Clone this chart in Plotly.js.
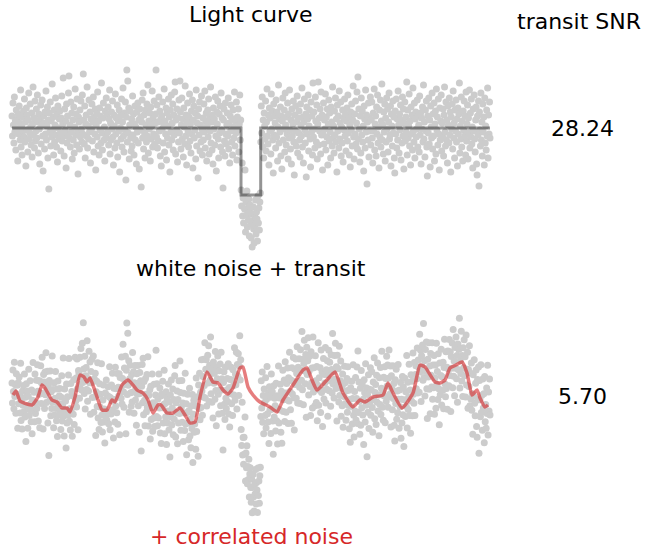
<!DOCTYPE html>
<html><head><meta charset="utf-8">
<script src="https://cdn.plot.ly/plotly-3.0.1.min.js"></script>
<style>html,body{margin:0;padding:0;background:#fff}#chart{width:647px;height:548px}</style>
</head><body><div id="chart"></div>
<script>
// Light curve flux (white noise + transit), relative units, evenly sampled in time
const fluxWhite = [
12,-8,25,3,-15,31,-4,7,-22,18,-1,9,-33,14,-6,22,5,-12,38,-19,2,-27,11,-3,17,-9,29,-14,6,-38,20,-2,13,-24,8,35,-11,-5,24,1,-17,15,-29,4,41,-7,10,-20,27,-13,
-3,19,-10,33,6,-25,14,-1,-36,9,23,-16,3,28,-8,-43,12,5,-21,16,-6,37,-12,2,21,-30,8,-61,15,-4,26,-18,7,-9,44,-2,11,-27,18,-14,3,30,-7,-19,13,-34,22,0,-11,9,
17,-5,-23,10,32,-13,4,50,-8,-28,19,-2,7,-40,24,-15,12,-6,35,52,-10,3,-19,26,-4,15,-31,8,-12,21,-25,1,39,-7,14,-17,29,-3,-46,11,6,-21,18,-9,27,-1,-14,33,-6,54,
8,-16,22,-30,4,13,-8,41,-20,2,-11,28,-4,16,-35,9,-1,24,-13,6,31,-24,11,-6,19,-42,3,15,-9,36,-18,7,-27,20,-2,12,-15,45,-5,-22,10,25,-12,1,-33,17,-7,30,-10,14,
-4,21,-17,9,38,-26,5,-12,16,-1,27,-9,-37,13,2,-20,34,-6,10,-15,23,-29,7,-3,18,-44,12,0,-11,29,-19,6,40,-8,-24,15,-2,26,-52,11,58,-14,47,-5,20,-31,3,17,-10,-23,
9,-18,32,-7,14,-27,4,22,-12,1,-36,16,-4,25,-15,8,-41,19,-2,11,-59,6,28,-10,35,-21,13,-5,-30,18,3,-14,24,-8,43,-25,7,-1,15,-33,21,-11,2,37,-19,10,-6,27,-16,5,
14,58,-9,23,-20,6,-13,31,-3,17,-28,9,-38,12,-1,26,-15,4,39,-24,7,-6,20,-32,15,-10,2,29,-17,11,-44,18,-4,33,-12,5,24,-22,13,-7,36,46,-26,8,-2,19,-34,10,-14,28,
-5,47,16,-21,3,30,-11,9,-29,20,1,-16,42,-8,13,-37,6,25,-3,-19,11,34,-13,4,-25,17,-6,28,-40,8,22,-10,-2,15,-31,38,-18,5,12,-50,19,-7,26,-23,3,-14,32,-1,-27,10,
-12,24,-4,37,-20,7,15,-33,2,18,-9,29,-26,11,-3,41,-15,6,-22,13,-36,20,-1,9,-17,31,-8,-43,16,4,27,-11,-30,14,-5,22,-19,35,-2,10,-24,-60,8,19,-13,-28,25,-6,-16,3,
15,-8,30,-21,5,-35,12,-3,23,-14,9,-27,18,1,-10,36,-18,7,-5,26,-32,11,-2,19,-24,4,33,-12,8,-62,-78,-35,-88,-70,-95,-66,-81,-42,-104,-74,-87,-63,-99,-80,-92,-71,-108,-84,-77,-96,
-110,-86,-119,-93,-79,-101,-115,-88,-97,-72,-106,-84,-91,-113,-68,-95,-80,-102,-74,-65,-14,22,-5,31,-19,8,-30,15,2,-11,27,-23,6,39,-8,-16,13,-37,20,-3,10,-26,34,-1,17,-12,-45,24,-7,12,
5,-20,28,-9,16,-33,1,43,-15,9,-4,21,-28,12,-41,7,30,-12,-1,18,-24,35,3,-17,11,-6,25,-31,14,-10,38,-2,-21,8,-36,19,-8,4,27,-14,-47,13,-3,22,-18,6,32,-25,10,-5,
17,-12,-29,24,3,-8,40,-19,11,-35,6,29,-2,-15,14,-49,21,-6,9,33,-23,2,18,-11,-39,26,-4,12,-27,45,-9,16,-1,-20,31,7,-14,23,-31,4,46,-17,10,-3,19,-26,36,-7,13,-42,
-6,25,-16,8,-1,34,-22,11,-9,19,-37,4,28,-13,15,-4,-30,21,6,-18,41,-10,2,-25,17,-7,30,-14,9,-44,23,-3,12,-20,37,-11,5,26,-28,1,-15,18,-34,10,-2,29,-8,14,-23,7,
20,-13,33,-5,11,-27,3,-39,16,-2,24,-18,8,42,-9,-31,14,-6,27,-16,5,36,-21,51,-11,19,-1,-34,12,-25,30,-7,17,-14,2,-43,22,9,-20,38,-4,13,-56,6,-12,25,-29,10,-3,31,
-17,8,26,-10,-35,15,-3,39,-22,4,12,-28,21,-6,33,-15,1,-40,18,-9,28,-19,7,44,-12,3,-26,16,-4,24,-33,10,-14,30,-1,19,-24,6,35,-11,-7,22,-38,14,2,-18,27,-5,11,-30,
-45,17,-6,29,-20,9,-12,37,3,-25,14,-2,23,-32,8,-15,31,-8,19,-41,5,26,-13,11,-4,46,-27,18,-10,2,34,-18,7,-37,21,-6,13,-22,40,-3,-14,25,-30,9,16,-9,-1,28,-19,12,
3,-24,32,-7,15,-36,10,-1,21,-14,43,-11,6,-29,18,-3,27,-19,-48,12,-5,30,-16,8,-39,22,1,-10,35,-21,14,-8,25,-33,4,17,-26,39,-2,11,-17,29,-6,-42,20,-12,7,33,-23,5,
-9,19,-28,13,41,-4,-18,26,-12,8,-35,22,3,-15,30,-7,16,-44,11,-1,24,-21,37,-10,5,-30,18,-3,28,-14,9,-38,20,-6,14,45,-25,2,-11,31,-19,7,-33,17,-2,27,-8,12,-27,36,
-13,4,23,-31,10,-5,38,-20,15,-9,29,-16,1,-40,19,-3,33,-11,-24,8,21,-36,-47,12,-7,27,-58,16,-2,-18,35,-12,6,-28,24,-4,11,-37,30,-15,2,-22,18,-8,40,-30,13,-6,26,-10
];
const timeSpan = 478;
// Box transit model
const modelTime = [0, 229, 229, 248.7, 248.7, 478];
const modelFlux = [0, 0, -67, -67, 0, 0];
// Correlated noise component
const corrTime = [1,4,8,15,20,26,30,33,40,45,50,55,58,63,68,72,75,78,85,90,95,100,103,110,116,121,125,131,136,141,146,149,155,161,168,173,178,183,188,195,201,206,211,216,221,228,231,236,241,248,258,265,271,281,291,295,300,305,314,323,331,341,348,353,361,371,376,381,390,401,408,413,423,428,433,438,444,450,455,460,465,468,473,476];
const corrFlux = [0,4,-6,-9,-10,-2,10,7,-5,-7,-13,-13,-17,-2,20,18,13,17,-2,-15,-15,-5,-7,10,15,10,5,2,-5,-18,-10,-10,-18,-18,-13,-20,-28,-27,-2,23,13,12,5,1,7,27,28,8,0,-7,-12,-17,-5,10,25,27,15,5,14,23,2,-12,-5,-7,-2,0,12,2,-13,2,30,28,13,12,15,27,30,33,22,0,5,-3,-12,-10];
const snrLabels = ["28.24", "5.70"];
const headerLabels = ["Light curve", "transit SNR"];
const panelLabels = ["white noise + transit", "+ correlated noise"];

const N = fluxWhite.length;
const time = fluxWhite.map((_, i) => i * timeSpan / (N - 1));
function interp(x, xs, ys) {
  if (x <= xs[0]) return ys[0];
  if (x >= xs[xs.length - 1]) return ys[ys.length - 1];
  for (let k = 1; k < xs.length; k++) {
    if (x <= xs[k]) { const f = (x - xs[k-1]) / (xs[k] - xs[k-1]); return ys[k-1] + f * (ys[k] - ys[k-1]); }
  }
}
const fluxCorr = fluxWhite.map((v, i) => v + interp(time[i], corrTime, corrFlux));

const W = 647, H = 548;
const px = v => v / W, py = v => 1 - v / H;
const ptMarker = {size: 7, color: '#cccccc', line: {width: 0}};
const traces = [
  {x: time, y: fluxWhite, xaxis: 'x', yaxis: 'y', mode: 'markers', marker: ptMarker, cliponaxis: false, hoverinfo: 'skip'},
  {x: modelTime, y: modelFlux, xaxis: 'x', yaxis: 'y', mode: 'lines', line: {color: 'rgba(0,0,0,0.42)', width: 3}, cliponaxis: false, hoverinfo: 'skip'},
  {x: time, y: fluxCorr, xaxis: 'x2', yaxis: 'y2', mode: 'markers', marker: ptMarker, cliponaxis: false, hoverinfo: 'skip'},
  {x: corrTime, y: corrFlux, xaxis: 'x2', yaxis: 'y2', mode: 'lines', line: {color: 'rgba(214,39,40,0.6)', width: 3.5, shape: 'spline', smoothing: 0.5}, cliponaxis: false, hoverinfo: 'skip'}
];
const F = {family: 'DejaVu Sans', size: 22, color: '#000000'};
function ann(text, x, y, color) {
  return {text: text, x: px(x), y: py(y), xref: 'paper', yref: 'paper', xanchor: 'center', yanchor: 'middle', showarrow: false,
          font: Object.assign({}, F, color ? {color: color} : {})};
}
const layout = {
  width: W, height: H, margin: {l: 0, r: 0, t: 0, b: 0},
  paper_bgcolor: '#ffffff', plot_bgcolor: '#ffffff', showlegend: false,
  xaxis: {domain: [0, 1], range: [-12, 635], visible: false, anchor: 'y'},
  xaxis2: {domain: [0, 1], range: [-12, 635], visible: false, anchor: 'y2'},
  yaxis: {domain: [py(260), py(50)], range: [128 - 260, 128 - 50], visible: false, anchor: 'x'},
  yaxis2: {domain: [py(520), py(300)], range: [395 - 520, 395 - 300], visible: false, anchor: 'x2'},
  annotations: [
    ann(headerLabels[0], 250.5, 15),
    ann(headerLabels[1], 578.5, 21),
    ann(snrLabels[0], 582, 128.5),
    ann(panelLabels[0], 251, 268.5),
    ann(snrLabels[1], 582, 396.5),
    ann(panelLabels[1], 251.5, 536.5, '#d62728')
  ]
};
Plotly.newPlot('chart', traces, layout, {staticPlot: true, displayModeBar: false});
</script></body></html>
